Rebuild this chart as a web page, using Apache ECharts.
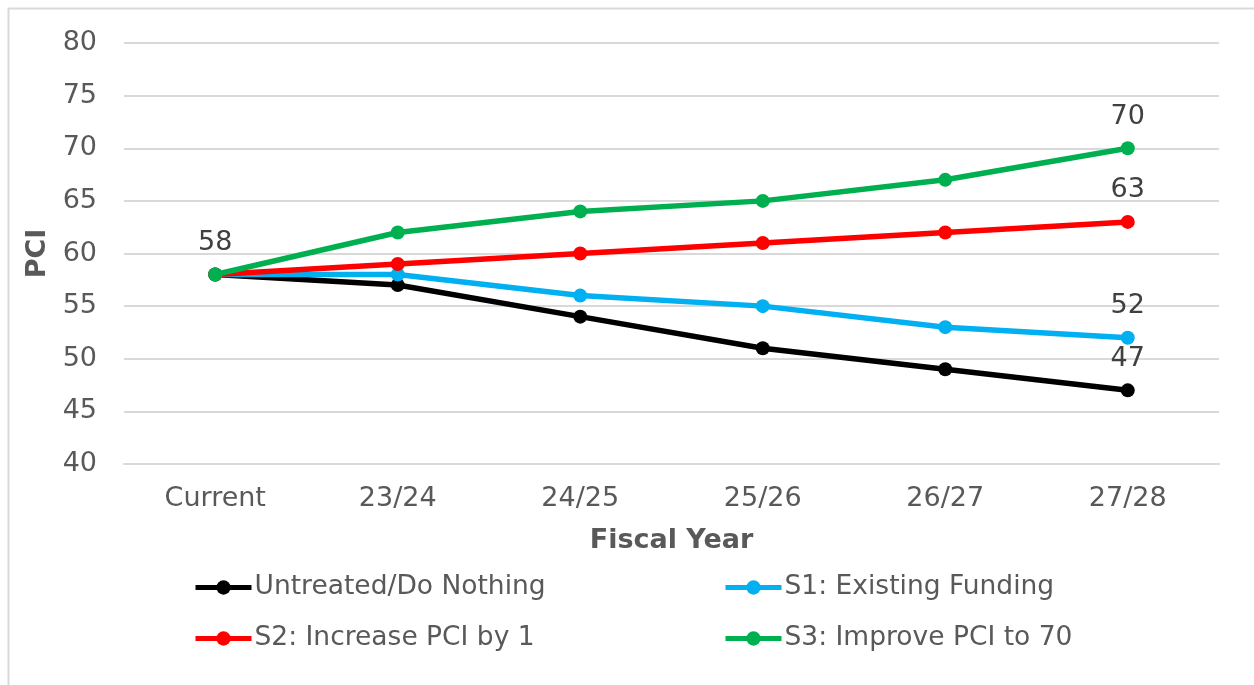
<!DOCTYPE html>
<html>
<head>
<meta charset="utf-8">
<script src="https://cdn.jsdelivr.net/npm/echarts@6/dist/echarts.min.js"></script>
<style>
html,body{margin:0;padding:0;background:#fff;}
#chart{width:1254px;height:685px;}
</style>
</head>
<body>
<div id="chart"></div>
<script>
var categories = ['Current', '23/24', '24/25', '25/26', '26/27', '27/28'];
var seriesNames = ['Untreated/Do Nothing', 'S1: Existing Funding', 'S2: Increase PCI by 1', 'S3: Improve PCI to 70'];
var untreated = [58, 57, 54, 51, 49, 47];
var s1Existing = [58, 58, 56, 55, 53, 52];
var s2Increase = [58, 59, 60, 61, 62, 63];
var s3Improve = [58, 62, 64, 65, 67, 70];
var yTicks = [40, 45, 50, 55, 60, 65, 70, 75, 80];

var colors = ['#000000', '#00B0F0', '#FF0000', '#00B050'];
var values = [untreated, s1Existing, s2Increase, s3Improve];
var FONT = 'DejaVu Sans';

function mkSeries(i) {
  var last = values[i].length - 1;
  return {
    name: seriesNames[i],
    type: 'line',
    data: values[i],
    symbol: 'circle',
    symbolSize: 14,
    lineStyle: { width: 5.5, color: colors[i] },
    itemStyle: { color: colors[i] },
    z: 2 + i,
    label: {
      show: true,
      position: 'top',
      distance: 11,
      fontFamily: FONT,
      fontSize: 27,
      color: '#404040',
      formatter: function (p) {
        if (p.dataIndex === last) return p.value;
        if (p.dataIndex === 0 && i === 3) return p.value;
        return '';
      }
    }
  };
}

function mkLegend(i, left, top) {
  return {
    data: [seriesNames[i]],
    left: left,
    top: top,
    itemWidth: 56,
    itemHeight: 18,
    itemGap: 0,
    padding: 0,
    lineStyle: { width: 5 },
    textStyle: { fontFamily: FONT, fontSize: 26.5, color: '#595959', padding: [0, 0, 0, -2] }
  };
}

var chart = echarts.init(document.getElementById('chart'));
chart.setOption({
  animation: false,
  backgroundColor: '#ffffff',
  graphic: [{
    type: 'polyline',
    shape: { points: [[8.5, 685], [8.5, 8.5], [1254, 8.5]] },
    style: { stroke: '#d9d9d9', lineWidth: 2, fill: null }
  }],
  grid: { left: 124, right: 35, top: 43, bottom: 221, containLabel: false },
  legend: [
    mkLegend(0, 193, 574),
    mkLegend(1, 723, 574),
    mkLegend(2, 193, 625),
    mkLegend(3, 723, 625)
  ],
  xAxis: {
    type: 'category',
    data: categories,
    boundaryGap: true,
    name: 'Fiscal Year',
    nameLocation: 'middle',
    nameGap: 63,
    nameTextStyle: { fontFamily: FONT, fontSize: 27, fontWeight: 'bold', color: '#595959' },
    axisLine: { show: true, lineStyle: { color: '#d9d9d9', width: 2 } },
    axisTick: { show: false },
    axisLabel: { fontFamily: FONT, fontSize: 27, color: '#595959', margin: 21 },
    splitLine: { show: false }
  },
  yAxis: {
    type: 'value',
    min: yTicks[0],
    max: yTicks[yTicks.length - 1],
    interval: 5,
    name: 'PCI',
    nameLocation: 'middle',
    nameGap: 66,
    nameRotate: 90,
    nameTextStyle: { fontFamily: FONT, fontSize: 27, fontWeight: 'bold', color: '#595959' },
    axisLine: { show: false },
    axisTick: { show: false },
    axisLabel: { fontFamily: FONT, fontSize: 27, color: '#595959', margin: 27 },
    splitLine: { show: true, lineStyle: { color: '#d9d9d9', width: 2 } }
  },
  series: [mkSeries(0), mkSeries(1), mkSeries(2), mkSeries(3)]
});
</script>
</body>
</html>
